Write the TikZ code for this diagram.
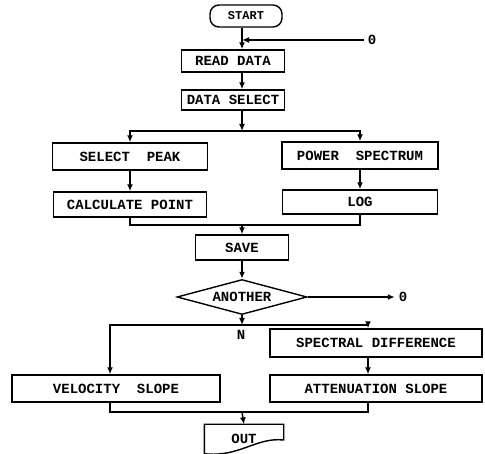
\documentclass[tikz,border=0pt]{standalone}
\usepackage{fontspec}
\setmonofont{Liberation Mono}
\usetikzlibrary{shapes.geometric,arrows.meta}

\begin{document}
\begin{tikzpicture}[x=1pt, y=1pt, line width=1.4pt,
    font=\ttfamily\bfseries\fontsize{14}{16}\selectfont,
    blk/.style={draw, rectangle, inner sep=0pt},
    arr/.style={-{Latex[length=7pt,width=6pt]}}]
    % 流程图: 数据读取与斜率计算
    \useasboundingbox (0,0) rectangle (485,-454);
    \coordinate (axis) at (242,0);

    \node[blk, rounded corners=9pt, minimum width=72, minimum height=22,
          font=\ttfamily\bfseries\fontsize{12}{14}\selectfont] (start) at (246,-16) {START};
    \node (zero1) at (372,-40) {0};
    \node[blk, minimum width=103, minimum height=22] (read) at (233,-61) {READ DATA};
    \node[blk, minimum width=103, minimum height=20] (dsel) at (233,-100) {DATA SELECT};

    \node[blk, minimum width=155, minimum height=27] (peak) at (130,-156.5) {SELECT\ \ PEAK};
    \node[blk, minimum width=156, minimum height=27] (power) at (360,-155.5) {POWER\ \ SPECTRUM};
    \node[blk, minimum width=153, minimum height=25] (calc) at (130,-204.5) {CALCULATE POINT};
    \node[blk, minimum width=155, minimum height=24] (log) at (360,-202) {LOG};

    \node[blk, minimum width=93, minimum height=25] (save) at (242,-247.5) {SAVE};
    \node[draw, diamond, aspect=3.7, minimum width=130, minimum height=35, inner sep=0pt]
          (another) at (242,-297) {ANOTHER};
    \node (zero2) at (403,-297) {0};
    \node (nlab) at (241,-335) {N};

    \node[blk, minimum width=212, minimum height=28] (spec) at (376,-343) {SPECTRAL DIFFERENCE};
    \node[blk, minimum width=208, minimum height=27] (vel) at (116,-388.5) {VELOCITY\ \ SLOPE};
    \node[blk, minimum width=212, minimum height=27] (att) at (376,-388.5) {ATTENUATION SLOPE};
    \node[minimum width=78, minimum height=28, inner sep=0pt] (out) at (244,-439) {OUT};
    \draw (out.north west) -- (out.north east) -- ([yshift=-1]out.east)
          .. controls +(-28,3) and +(35,-4) .. (out.south west) -- cycle;

    % 连线
    \draw[arr] (start.south -| axis) -- (read.north -| axis);
    \draw[arr] (zero1.west) -- (zero1.west -| axis);
    \draw[arr] (read.south -| axis) -- (dsel.north -| axis);
    \coordinate (fork1) at (242,-131);
    \draw[arr] (dsel.south -| axis) -- (fork1);
    \draw[arr] (fork1) -| (peak.north);
    \draw[arr] (fork1) -| (power.north);
    \draw[arr] (peak.south) -- (calc.north);
    \draw[arr] (power.south) -- (log.north);
    \coordinate (join1) at (242,-225);
    \draw (calc.south) |- (join1) -| (log.south);
    \draw[arr] (join1) -- (save.north);
    \draw[arr] (save.south) -- (another.north);
    \draw[arr] (another.east) -- (zero2.west);
    \coordinate (fork2) at (242,-325);
    \draw[arr] (another.south) -- (fork2);
    \draw[arr] (fork2) -| ([xshift=-6]vel.north);
    \draw[arr] (fork2) -| ([xshift=-8]spec.north);
    \draw[arr] ([xshift=-8]spec.south) -- ([xshift=-8]att.north);
    \coordinate (join2) at (242,-412);
    \draw ([xshift=-6]vel.south) |- (join2) -| ([xshift=-8]att.south);
    \draw[arr] (join2) -- (out.north);
\end{tikzpicture}
\end{document}
